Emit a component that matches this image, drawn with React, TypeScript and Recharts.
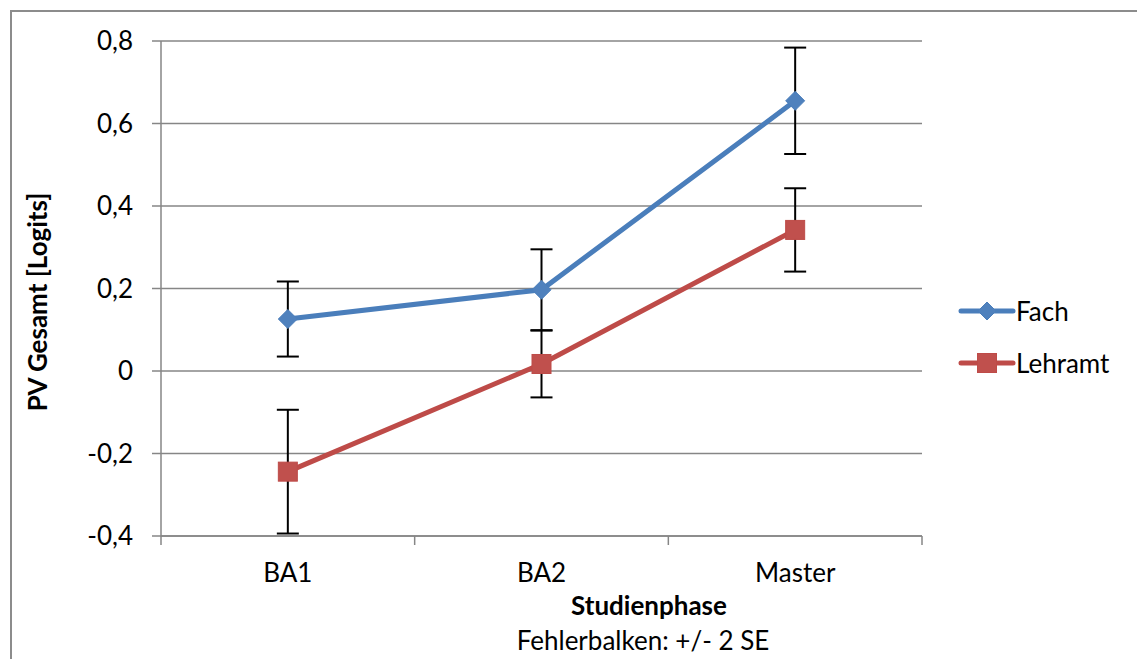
import React from 'react';
import { ComposedChart, Line, XAxis, YAxis, CartesianGrid, ErrorBar } from 'recharts';

const categories = ['BA1', 'BA2', 'Master'];
const fachValues = [0.126, 0.197, 0.655];
const fachErrors = [0.091, 0.098, 0.129];
const lehramtValues = [-0.244, 0.017, 0.342];
const lehramtErrors = [0.15, 0.081, 0.101];
const yTicks = [-0.4, -0.2, 0, 0.2, 0.4, 0.6, 0.8];
const xTicks = [0, 0.5, 1, 1.5, 2, 2.5, 3];
const seriesNames = ['Fach', 'Lehramt'];

const data = categories.map((c, i) => ({
  pos: i + 0.5,
  phase: c,
  fach: fachValues[i],
  fachErr: [fachErrors[i], fachErrors[i]],
  lehramt: lehramtValues[i],
  lehramtErr: [lehramtErrors[i], lehramtErrors[i]],
}));

const FONT = 'Lato, "Open Sans", sans-serif';
const FS = 26;
const GRID = '#868686';
const BLUE_LINE = '#4A7EBB';
const BLUE_FILL = '#4F81BD';
const RED_LINE = '#BE4B48';
const RED_FILL = '#C0504D';

const fmt = (v: number) => (v === 0 ? '0' : v.toFixed(1).replace('.', ','));

const XTick = (props: any) => {
  const { x, y, payload } = props;
  const v = payload.value as number;
  if (Number.isInteger(v)) {
    return <line x1={x} y1={y} x2={x} y2={y + 9} stroke={GRID} strokeWidth={1.5} />;
  }
  const label = categories[Math.floor(v)];
  return (
    <text x={x} y={y + 28} dy="0.71em" textAnchor="middle" fill="#000" fontSize={FS} fontFamily={FONT}>
      {label}
    </text>
  );
};

const Diamond = (props: any) => {
  const { cx, cy } = props;
  if (cx == null || cy == null) return null;
  const r = 9.5;
  return (
    <polygon
      points={`${cx},${cy - r} ${cx + r},${cy} ${cx},${cy + r} ${cx - r},${cy}`}
      fill={BLUE_FILL}
      stroke={BLUE_LINE}
      strokeWidth={1}
    />
  );
};

const Square = (props: any) => {
  const { cx, cy } = props;
  if (cx == null || cy == null) return null;
  const r = 9.5;
  return <rect x={cx - r} y={cy - r} width={2 * r} height={2 * r} fill={RED_FILL} stroke={RED_LINE} strokeWidth={1} />;
};

const LegendBox = () => (
  <div style={{ position: 'absolute', left: 958, top: 285, fontFamily: FONT, fontSize: FS, color: '#000' }}>
    {seriesNames.map((name, i) => (
      <div key={name} style={{ display: 'flex', alignItems: 'center', height: 52 }}>
        <svg width={58} height={24}>
          <line x1={3} y1={12} x2={55} y2={12} stroke={i === 0 ? BLUE_LINE : RED_LINE} strokeWidth={5} strokeLinecap="round" />
          {i === 0 ? (
            <polygon points="29,3 38,12 29,21 20,12" fill={BLUE_FILL} stroke={BLUE_LINE} />
          ) : (
            <rect x={19.5} y={2.5} width={19} height={19} fill={RED_FILL} stroke={RED_LINE} />
          )}
        </svg>
        <span style={{ marginLeft: 0 }}>{name}</span>
      </div>
    ))}
  </div>
);

export default function App() {
  return (
    <div style={{ position: 'fixed', left: 0, top: 0, width: 1137, height: 659, background: '#fff', fontFamily: FONT, overflow: 'hidden' }}>
      <div
        style={{
          position: 'absolute',
          left: 10,
          top: 10,
          width: 1200,
          height: 700,
          borderLeft: '2px solid #8c8c8c',
          borderTop: '2px solid #8c8c8c',
        }}
      />
      <ComposedChart
        width={1137}
        height={659}
        data={data}
        margin={{ top: 41, right: 215, left: 0, bottom: 93 }}
        style={{ position: 'absolute', left: 0, top: 0 }}
      >
        <CartesianGrid vertical={false} stroke={GRID} strokeWidth={1.5} />
        <XAxis
          type="number"
          dataKey="pos"
          domain={[0, 3]}
          ticks={xTicks}
          interval={0}
          tickLine={false}
          tickSize={0}
          tickMargin={0}
          height={30}
          axisLine={{ stroke: GRID, strokeWidth: 1.5 }}
          tick={<XTick />}
        />
        <YAxis
          type="number"
          domain={[-0.4, 0.8]}
          ticks={yTicks}
          interval={0}
          width={161}
          tickSize={9}
          tickMargin={19}
          tickFormatter={fmt}
          axisLine={{ stroke: GRID, strokeWidth: 1.5 }}
          tickLine={{ stroke: GRID, strokeWidth: 1.5 }}
          tick={{ fill: '#000', fontSize: FS, fontFamily: FONT }}
        />
        <Line
          dataKey="fach"
          name="Fach"
          stroke={BLUE_LINE}
          strokeWidth={5}
          dot={<Diamond />}
          activeDot={false}
          isAnimationActive={false}
        >
          <ErrorBar dataKey="fachErr" direction="y" width={11} stroke="#000" strokeWidth={2} isAnimationActive={false} />
        </Line>
        <Line
          dataKey="lehramt"
          name="Lehramt"
          stroke={RED_LINE}
          strokeWidth={5}
          dot={<Square />}
          activeDot={false}
          isAnimationActive={false}
        >
          <ErrorBar dataKey="lehramtErr" direction="y" width={11} stroke="#000" strokeWidth={2} isAnimationActive={false} />
        </Line>
      </ComposedChart>
      <LegendBox />
      <div
        style={{
          position: 'absolute',
          left: 37,
          top: 302,
          transform: 'translate(-50%, -50%) rotate(-90deg)',
          whiteSpace: 'nowrap',
          fontWeight: 700,
          fontSize: FS,
          color: '#000',
        }}
      >
        PV Gesamt [Logits]
      </div>
      <div style={{ position: 'absolute', left: 649, top: 589, transform: 'translateX(-50%)', whiteSpace: 'nowrap', fontWeight: 700, fontSize: FS, color: '#000' }}>
        Studienphase
      </div>
      <div style={{ position: 'absolute', left: 643, top: 624, transform: 'translateX(-50%)', whiteSpace: 'nowrap', fontSize: FS, color: '#000' }}>
        Fehlerbalken: +/- 2 SE
      </div>
    </div>
  );
}
